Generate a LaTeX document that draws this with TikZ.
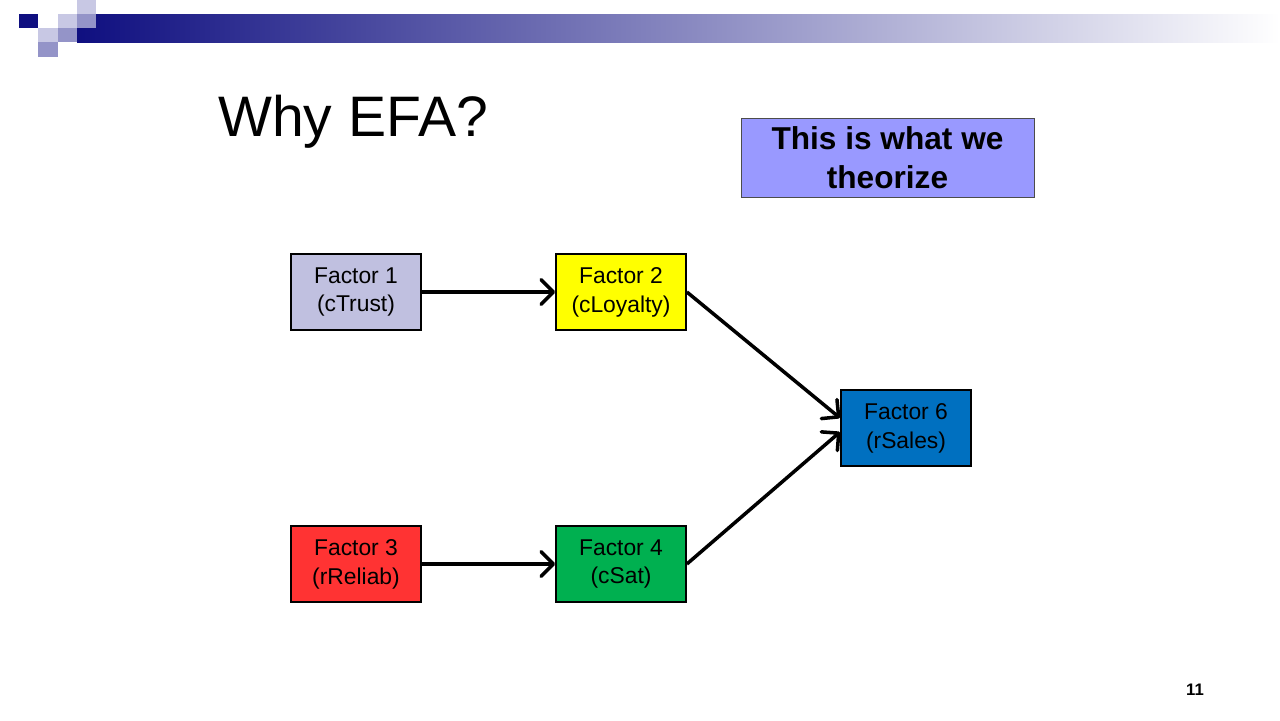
\documentclass[tikz,border=0pt]{standalone}
\usepackage{fontspec}
\setmainfont{Liberation Sans}
\usetikzlibrary{arrows.meta}
\definecolor{navy}{HTML}{0F0F80}
\definecolor{lilac}{HTML}{C8C8E4}
\definecolor{midblue}{HTML}{9494C8}
\definecolor{fgrey}{HTML}{C0C0E0}
\definecolor{fyellow}{HTML}{FFFF00}
\definecolor{fred}{HTML}{FF3333}
\definecolor{fgreen}{HTML}{00B050}
\definecolor{fblue}{HTML}{0070C0}
\definecolor{callout}{HTML}{9999FF}
\begin{document}
\begin{tikzpicture}[x=0.02cm,y=-0.02cm,
    factor/.style={draw=black,line width=1pt,minimum width=2.6cm,minimum height=1.52cm,
      inner sep=0pt,align=center,font=\fontsize{13}{16.5}\selectfont},
    link/.style={-{Straight Barb[length=7pt,width=14pt,round]},line width=2pt}]
            % Slide frame
            \useasboundingbox (0,0) rectangle (1280,720);
            % Banner with fading bar
            \shade[left color=navy,right color=white] (77,14) rectangle (1280,42);
            \fill[navy] (19,14) rectangle (38,28);
            \fill[lilac] (38,28) rectangle (58,42);
            \fill[lilac] (58,14) rectangle (77,28);
            \fill[lilac] (77,0) rectangle (96,14);
            \fill[midblue] (77,14) rectangle (96,28);
            \fill[midblue] (58,28) rectangle (77,42);
            \fill[midblue] (38,42) rectangle (58,57);
            % Title and callout
            \node[anchor=west,font=\fontsize{32.5}{38}\selectfont] (title) at (212,122) {Why EFA?};
            \node[draw=black!70,fill=callout,minimum width=5.86cm,minimum height=1.58cm,align=center,
              font=\bfseries\fontsize{18}{22}\selectfont] (theory) at (887.5,157.5) {This is what we\\theorize};
            % Factors
            \node[factor,fill=fgrey] (trust) at (356,292) {Factor 1\\(cTrust)};
            \node[factor,fill=fyellow] (loyal) at (621,292) {Factor 2\\(cLoyalty)};
            \node[factor,fill=fred] (reliab) at (356,564) {Factor 3\\(rReliab)};
            \node[factor,fill=fgreen] (sat) at (621,564) {Factor 4\\(cSat)};
            \node[factor,fill=fblue] (sales) at (906,428) {Factor 6\\(rSales)};
            % Arrow ends on Factor 6
            \coordinate (inA) at (840,418);
            \coordinate (inB) at (840,432);
            % Paths
            \draw[link] (trust) -- (loyal);
            \draw[link] (reliab) -- (sat);
            \draw[link] (loyal.east) -- (inA);
            \draw[link] (sat.east) -- (inB);
            % Page number
            \node[font=\bfseries\fontsize{9.5}{11}\selectfont] (page) at (1195,690) {11};
        \end{tikzpicture}
\end{document}
